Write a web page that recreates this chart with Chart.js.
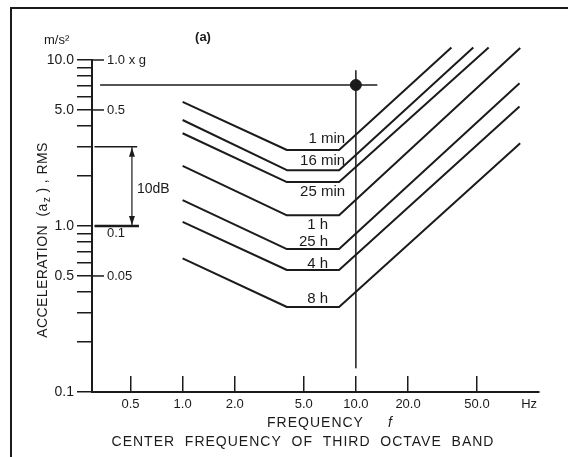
<!DOCTYPE html>
<html>
<head>
<meta charset="utf-8">
<script src="https://cdn.jsdelivr.net/npm/chart.js@4.4.1/dist/chart.umd.min.js"></script>
<style>
html, body { margin: 0; padding: 0; background: #fff; }
#wrap { width: 568px; height: 457px; position: relative; }
</style>
</head>
<body>
<div id="wrap"><canvas id="chart"></canvas></div>
<script>
// exposure curves, m/s^2 vs Hz
const curveLabels = ['1 min', '16 min', '25 min', '1 h', '25 h', '4 h', '8 h'];
const startHz = 1, kneeLowHz = 4, kneeHighHz = 8;
const startAccel = [5.6, 4.35, 3.62, 2.3, 1.43, 1.06, 0.638];
const flatAccel = [2.87, 2.17, 1.84, 1.16, 0.726, 0.543, 0.325];
const endHz = [35.6, 47.6, 58.4, 88.8, 88, 88, 88.8];
const endAccel = [11.9, 11.9, 11.9, 11.8, 7.24, 5.24, 3.15];

// axes
const xMin = 0.31, xMax = 114;
const xTicks = [0.5, 1, 2, 5, 10, 20, 50, 100];
const xTickLabels = ['0.5', '1.0', '2.0', '5.0', '10.0', '20.0', '50.0', 'Hz'];
const yMin = 0.1, yMax = 10;
const yTicks = [0.1, 0.2, 0.3, 0.4, 0.5, 0.6, 0.7, 0.8, 0.9, 1, 2, 3, 4, 5, 6, 7, 8, 9, 10];
const yTickLabels = ['0.1', '', '', '', '0.5', '', '', '', '', '1.0', '', '', '', '5.0', '', '', '', '', '10.0'];
const gTicks = [10, 5, 1, 0.5];
const gTickLabels = ['1.0 x g', '0.5', '0.1', '0.05'];

// marker + 10 dB bracket
const markerHz = 10, markerAccel = 7.07;
const crossLeftHz = 0.334, crossRightHz = 13.3, crossTopAccel = 8.6, crossBottomAccel = 0.14;
const bracketTop = 3.0, bracketBottom = 1.0;
const bracketTopEndHz = 0.547, bracketBottomEndHz = 0.56, bracketArrowHz = 0.51;

// label placement (pixels, relative to the end of each flat part)
const labelPlacement = [
  { dx: 6, dy: -11 }, { dx: 6, dy: -9 }, { dx: 6, dy: 10 }, { dx: -11, dy: 10 },
  { dx: -11, dy: -7 }, { dx: -11, dy: -6 }, { dx: -11, dy: -8 }
];
const gLabelShift = [0, 0, 7, 0];

const FONT = "'Liberation Sans', Arial, Helvetica, sans-serif";
const INK = '#1b1b1b';

function curvePoints(i) {
  return [
    { x: startHz, y: startAccel[i] },
    { x: kneeLowHz, y: flatAccel[i] },
    { x: kneeHighHz, y: flatAccel[i] },
    { x: endHz[i], y: endAccel[i] }
  ];
}

const lineStyle = { showLine: true, borderColor: INK, borderWidth: 2, pointRadius: 0, clip: false, borderJoinStyle: 'round' };

const datasets = curveLabels.map((label, i) => Object.assign({ label, data: curvePoints(i) }, lineStyle));
datasets.push(Object.assign({ label: 'h', data: [{ x: crossLeftHz, y: markerAccel }, { x: crossRightHz, y: markerAccel }] }, lineStyle, { borderWidth: 1.5 }));
datasets.push(Object.assign({ label: 'v', data: [{ x: markerHz, y: crossTopAccel }, { x: markerHz, y: crossBottomAccel }] }, lineStyle, { borderWidth: 1.5 }));
datasets.push({ label: 'dot', data: [{ x: markerHz, y: markerAccel }], pointRadius: 5.5, backgroundColor: INK, borderColor: INK, showLine: false, clip: false });
datasets.push(Object.assign({ label: 'bt', data: [{ x: xMin, y: bracketTop }, { x: bracketTopEndHz, y: bracketTop }] }, lineStyle, { borderWidth: 1.5 }));
datasets.push(Object.assign({ label: 'bb', data: [{ x: xMin, y: bracketBottom }, { x: bracketBottomEndHz, y: bracketBottom }] }, lineStyle, { borderWidth: 2.5 }));
datasets.push(Object.assign({ label: 'ba', data: [{ x: bracketArrowHz, y: bracketTop }, { x: bracketArrowHz, y: bracketBottom }] }, lineStyle, { borderWidth: 1.2 }));

const decor = {
  id: 'decor',
  afterDraw(chart) {
    const ctx = chart.ctx, xs = chart.scales.x, ys = chart.scales.y;
    const left = chart.chartArea.left;
    ctx.save();
    ctx.strokeStyle = INK;
    ctx.fillStyle = INK;

    // frame
    ctx.lineWidth = 2;
    ctx.beginPath();
    ctx.moveTo(11, 457); ctx.lineTo(11, 8); ctx.lineTo(568, 8);
    ctx.stroke();

    // g scale on the right of the axis
    ctx.lineWidth = 1.5;
    ctx.font = `13px ${FONT}`;
    ctx.textAlign = 'left';
    ctx.textBaseline = 'middle';
    gTicks.forEach((v, i) => {
      const y = ys.getPixelForValue(v);
      if (v !== bracketBottom) {
        ctx.beginPath(); ctx.moveTo(left, y); ctx.lineTo(left + 12, y); ctx.stroke();
      }
      ctx.fillText(gTickLabels[i], left + 15, y + gLabelShift[i]);
    });

    // arrow heads of the 10 dB bracket
    const ax = xs.getPixelForValue(bracketArrowHz);
    const at = ys.getPixelForValue(bracketTop), ab = ys.getPixelForValue(bracketBottom);
    ctx.beginPath(); ctx.moveTo(ax, at + 1); ctx.lineTo(ax - 3, at + 10); ctx.lineTo(ax + 3, at + 10); ctx.closePath(); ctx.fill();
    ctx.beginPath(); ctx.moveTo(ax, ab - 1); ctx.lineTo(ax - 3, ab - 10); ctx.lineTo(ax + 3, ab - 10); ctx.closePath(); ctx.fill();
    ctx.font = `14px ${FONT}`;
    ctx.fillText('10dB', ax + 5, (at + ab) / 2 + 3);

    // curve labels
    ctx.font = `15px ${FONT}`;
    ctx.textAlign = 'right';
    const kx = xs.getPixelForValue(kneeHighHz);
    curveLabels.forEach((t, i) => {
      const y = ys.getPixelForValue(flatAccel[i]);
      ctx.fillText(t, kx + labelPlacement[i].dx, y + labelPlacement[i].dy);
    });

    // top-left texts
    ctx.font = `bold 13px ${FONT}`;
    ctx.textAlign = 'center';
    ctx.fillText('(a)', 203, 37);
    ctx.textAlign = 'left';
    ctx.font = `13px ${FONT}`;
    ctx.fillText('m/s²', 44, 40);

    // x titles
    ctx.letterSpacing = '1px';
    ctx.font = `14px ${FONT}`;
    ctx.textAlign = 'center';
    const cx = (chart.chartArea.left + chart.chartArea.right) / 2;
    ctx.fillText('FREQUENCY', cx, 423);
    ctx.font = `italic 14px ${FONT}`;
    ctx.fillText('f', cx + 75, 423);
    ctx.font = `14px ${FONT}`;
    ctx.fillText('CENTER  FREQUENCY  OF  THIRD  OCTAVE  BAND', 303, 442);

    // y title with subscript
    ctx.letterSpacing = '0.4px';
    ctx.translate(43, 240);
    ctx.rotate(-Math.PI / 2);
    ctx.textAlign = 'left';
    const p1 = 'ACCELERATION  (a', p3 = ' ) , RMS';
    ctx.font = `14px ${FONT}`;
    const w1 = ctx.measureText(p1).width, w3 = ctx.measureText(p3).width;
    ctx.font = `10px ${FONT}`;
    const w2 = ctx.measureText('z').width + 1;
    let sx = -(w1 + w2 + w3) / 2;
    ctx.font = `14px ${FONT}`;
    ctx.fillText(p1, sx, 0);
    ctx.font = `10px ${FONT}`;
    ctx.fillText('z', sx + w1 + 1, 4);
    ctx.font = `14px ${FONT}`;
    ctx.fillText(p3, sx + w1 + w2, 0);
    ctx.restore();
  }
};

new Chart(document.getElementById('chart'), {
  type: 'scatter',
  data: { datasets },
  options: {
    responsive: true,
    maintainAspectRatio: false,
    animation: false,
    layout: { padding: { top: 60, right: 29, left: 0, bottom: 0 } },
    plugins: { legend: { display: false }, tooltip: { enabled: false } },
    scales: {
      x: {
        type: 'logarithmic', position: 'bottom', min: xMin, max: xMax,
        afterBuildTicks: s => { s.ticks = xTicks.map(v => ({ value: v })); },
        afterFit: s => { s.height = 65; },
        ticks: {
          callback: (v, i) => xTickLabels[i], autoSkip: false, maxRotation: 0, minRotation: 0,
          padding: 21, color: INK, font: { family: FONT, size: 13 }
        },
        grid: {
          drawOnChartArea: false, tickLength: -16, lineWidth: 1.5,
          color: c => (c.tick && c.tick.value === 100) ? 'rgba(0,0,0,0)' : INK
        },
        border: { display: true, color: INK, width: 2 }
      },
      y: {
        type: 'logarithmic', position: 'left', min: yMin, max: yMax,
        afterBuildTicks: s => { s.ticks = yTicks.map(v => ({ value: v })); },
        afterFit: s => { s.width = 92; },
        ticks: {
          callback: (v, i) => yTickLabels[i], autoSkip: false,
          padding: 3, color: INK, font: { family: FONT, size: 14 }
        },
        grid: { drawOnChartArea: false, tickLength: 15, lineWidth: 1.5, color: INK },
        border: { display: true, color: INK, width: 2 }
      }
    }
  },
  plugins: [decor]
});
</script>
</body>
</html>
